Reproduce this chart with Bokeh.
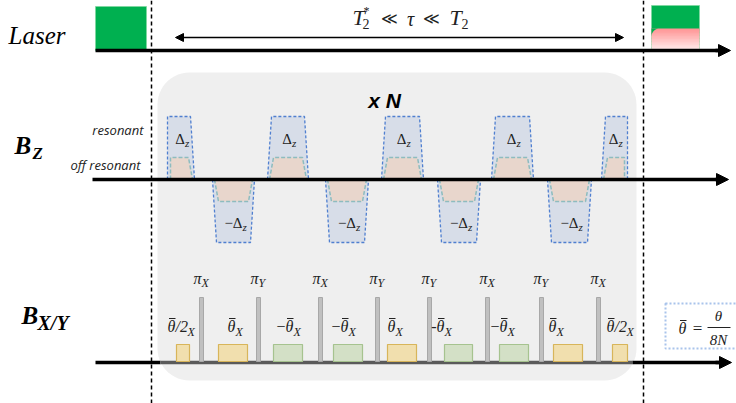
import numpy as np
from bokeh.plotting import figure
from bokeh.models import Range1d, Arrow, NormalHead
from bokeh.core.properties import value
from bokeh.embed import file_html
from bokeh.resources import INLINE

# ---------------- data ----------------
row_names = ["Laser", "B", "B"]
row_subs = ["", "Z", "X/Y"]

laser_left = [95, 651]
laser_right = [146, 699]

bz_left = [167, 212, 267, 325, 381, 437, 491, 547, 601]
bz_right = [194, 254, 308, 368, 423, 480, 533, 591, 627]
bz_sign = [1, -1, 1, -1, 1, -1, 1, -1, 1]
bz_amp_outer = 63
bz_amp_inner = 22

pi_times = [201, 258, 320, 377, 429, 487, 541, 598]
pi_axes = ["X", "Y", "X", "Y", "Y", "X", "Y", "X"]
pi_height = 65

theta_left = [176, 218, 273, 333, 387, 444, 499, 553, 612]
theta_right = [189, 247, 302, 362, 416, 472, 528, 582, 627]
theta_sign = [1, 1, -1, -1, 1, -1, -1, 1, 1]
theta_prefix = ["", "", "−", "−", "", "-", "−", "", ""]
theta_suffix = ["/2", "", "", "", "", "", "", "", "/2"]
theta_height = 18

# ---------------- layout ----------------
Y_LASER, Y_BZ, Y_BXY = 50, 179, 362
theta_label_x = [187, 235, 293, 348, 395, 444, 507, 556, 626]

W, H = 736, 403
p = figure(width=W, height=H, x_range=Range1d(0, W), y_range=Range1d(H, 0),
           output_backend="svg", toolbar_location=None, min_border=0,
           x_axis_type=None, y_axis_type=None, outline_line_color=None,
           background_fill_color="white", border_fill_color="white")
p.grid.visible = False

SERIF = value("Liberation Serif")
SANS = value("Liberation Sans")
TXT = "#222222"


def rounded_rect(l, r, t, b, rad, n=14):
    xs, ys = [], []
    for cx, cy, a0, a1 in [(r - rad, t + rad, -90, 0), (r - rad, b - rad, 0, 90),
                           (l + rad, b - rad, 90, 180), (l + rad, t + rad, 180, 270)]:
        a = np.radians(np.linspace(a0, a1, n))
        xs += list(cx + rad * np.cos(a))
        ys += list(cy + rad * np.sin(a))
    return xs, ys


def theta_bar(x, y, size="16px"):
    # θ with an overbar: glyph + short segment above it
    p.text(x=x, y=y, text=["θ"] * len(x), text_font=SERIF, text_font_style="italic",
           text_font_size=size, text_baseline="middle",
           text_align="center", text_color=TXT)
    p.segment(x0=[v - 2.5 for v in x], x1=[v + 4 for v in x],
              y0=[v - 8 for v in y], y1=[v - 8 for v in y], line_color=TXT, line_width=1)


# gray repeat box
bx, by = rounded_rect(157, 636, 72, 380, 32)
p.patch(bx, by, fill_color="#efefef", line_color=None)

# dashed vertical markers
for xv in [151, 643]:
    p.line([xv, xv], [0, H], line_color="black", line_width=1.5, line_dash="4 3")

# ---------------- Laser row ----------------
p.quad(left=laser_left, right=laser_right, top=[6, 5], bottom=[Y_LASER, Y_LASER],
       fill_color="#00b050", line_color="#7fd8a0", line_width=0.8)
pl, pr = laser_left[1], laser_right[1]
pt, pb = 28, Y_LASER - 1
nstrip = 14
edges = np.linspace(pt, pb, nstrip + 1)
cols = []
for k in range(nstrip):
    f = k / (nstrip - 1)
    g = int(150 + f * 82)
    cols.append("#ff%02x%02x" % (g, g))
p.quad(left=[pl] * nstrip, right=[pr] * nstrip, top=edges[:-1], bottom=edges[1:] + 0.4,
       fill_color=cols, line_color=None)
rad = 8
a = np.radians(np.linspace(180, 270, 12))
cx_, cy_ = pl + rad, pt + rad
p.patch([pl] + list(cx_ + rad * np.cos(a)) + [pl], [pt] + list(cy_ + rad * np.sin(a)) + [pt],
        fill_color="#00b050", line_color=None)

p.line([95, 722], [Y_LASER, Y_LASER], line_color="black", line_width=3.5)
p.add_layout(Arrow(end=NormalHead(size=12, fill_color="black", line_color="black"),
                   x_start=715, y_start=Y_LASER, x_end=730, y_end=Y_LASER,
                   line_color="black", line_width=3.5))

# tau arrow and condition
p.add_layout(Arrow(start=NormalHead(size=8, fill_color="black", line_color="black"),
                   end=NormalHead(size=8, fill_color="black", line_color="black"),
                   x_start=175, y_start=37, x_end=623, y_end=37,
                   line_color="black", line_width=1.3))
p.text(x=[352, 449], y=[17, 17], text=["T", "T"], text_font=SERIF, text_font_style="italic",
       text_font_size="22px", text_baseline="middle", text_align="left", text_color=TXT)
p.text(x=[362, 461], y=[23, 23], text=["2", "2"], text_font=SERIF,
       text_font_size="14px", text_baseline="middle", text_align="left", text_color=TXT)
p.text(x=[363], y=[10], text=["*"], text_font=SERIF,
       text_font_size="12px", text_baseline="middle", text_align="left", text_color=TXT)
p.text(x=[389, 431], y=[18, 18], text=["≪", "≪"], text_font=value("DejaVu Serif"),
       text_font_size="16px", text_baseline="middle", text_align="center", text_color=TXT)
p.text(x=[410], y=[18], text=["τ"], text_font=SERIF, text_font_style="italic",
       text_font_size="20px", text_baseline="middle", text_align="center", text_color=TXT)

# ---------------- Bz row ----------------
oxs, oys, ixs, iys = [], [], [], []
lab_x, lab_y, lab_main = [], [], []
n = len(bz_left)
for i in range(n):
    L, R, s = bz_left[i], bz_right[i], bz_sign[i]
    far_o = Y_BZ - s * bz_amp_outer
    far_i = Y_BZ - s * bz_amp_inner
    inL = 0 if i == 0 else 4
    inR = 0 if i == n - 1 else 4
    oxs.append([L, L + inL, R - inR, R])
    oys.append([Y_BZ, far_o, far_o, Y_BZ])
    aL = 3 if i == 0 else 2
    aR = 3 if i == n - 1 else 2
    fL = 3 if i == 0 else 6
    fR = 3 if i == n - 1 else 6
    ixs.append([L + aL, L + fL, R - fR, R - aR])
    iys.append([Y_BZ, far_i, far_i, Y_BZ])
    c = (L + R) / 2
    if s > 0:
        lab_x.append(c + 4); lab_y.append(138); lab_main.append("Δ")
    else:
        lab_x.append(c + 9); lab_y.append(222); lab_main.append("−Δ")

p.patches(oxs, oys, fill_color="#d7dde8", line_color="#4f7fd0", line_width=1.3,
          line_dash="3 2")
p.patches(ixs, iys, fill_color="#e8d6cc", line_color="#8dbcbf", line_width=1.5,
          line_dash="4 2")
p.text(x=lab_x, y=lab_y, text=lab_main, text_font=SERIF, text_font_size="15px",
       text_baseline="middle", text_align="right", text_color=TXT)
p.text(x=lab_x, y=[v + 4 for v in lab_y], text=["z"] * n, text_font=SERIF,
       text_font_style="italic", text_font_size="11px", text_baseline="middle",
       text_align="left", text_color=TXT)

p.line([92, 720], [Y_BZ, Y_BZ], line_color="black", line_width=3.5)
p.add_layout(Arrow(end=NormalHead(size=12, fill_color="black", line_color="black"),
                   x_start=715, y_start=Y_BZ, x_end=728, y_end=Y_BZ,
                   line_color="black", line_width=3.5))

p.text(x=[143, 140], y=[129, 164], text=["resonant", "off resonant"],
       text_font=value("Open Sans"), text_font_style="italic", text_font_size="13px",
       text_baseline="middle", text_align="right", text_color=TXT)
p.text(x=[384], y=[100], text=["x N"], text_font=SANS, text_font_style="bold italic",
       text_font_size="21px", text_baseline="middle", text_align="center")

# ---------------- Bx/y row ----------------
p.line([95, 160], [Y_BXY, Y_BXY], line_color="black", line_width=3.5)
p.line([160, 632], [Y_BXY, Y_BXY], line_color="#5a5a5a", line_width=3.5)
p.line([632, 722], [Y_BXY, Y_BXY], line_color="black", line_width=3.5)
p.add_layout(Arrow(end=NormalHead(size=12, fill_color="black", line_color="black"),
                   x_start=715, y_start=Y_BXY, x_end=731, y_end=Y_BXY,
                   line_color="black", line_width=3.5))

tcol = ["#f1dfae" if s > 0 else "#d3e0c6" for s in theta_sign]
tline = ["#d8b55a" if s > 0 else "#a6c38f" for s in theta_sign]
m = len(theta_left)
p.quad(left=theta_left, right=theta_right, top=[Y_BXY - theta_height] * m,
       bottom=[Y_BXY - 1] * m, fill_color=tcol, line_color=tline, line_width=1.2)
k = len(pi_times)
p.quad(left=[t - 2 for t in pi_times], right=[t + 2 for t in pi_times],
       top=[Y_BXY - pi_height] * k, bottom=[Y_BXY - 1] * k,
       fill_color="#c0c0c0", line_color="#a8a8a8", line_width=1)

p.text(x=pi_times, y=[278] * k, text=["π"] * k, text_font=SERIF,
       text_font_style="italic", text_font_size="16px", text_baseline="middle",
       text_align="right", text_color=TXT)
p.text(x=pi_times, y=[282] * k, text=pi_axes, text_font=SERIF,
       text_font_style="italic", text_font_size="12px", text_baseline="middle",
       text_align="left", text_color=TXT)

# theta labels: prefix, θ̄, suffix, subscript X
th_x = [sx - 4 - (12 if suf else 0) for sx, suf in zip(theta_label_x, theta_suffix)]
theta_bar(th_x, [326] * m)
p.text(x=[v - 4 for v in th_x], y=[326] * m, text=theta_prefix, text_font=SERIF,
       text_font_size="16px", text_baseline="middle", text_align="right", text_color=TXT)
p.text(x=[v + 4 for v in th_x], y=[326] * m, text=theta_suffix, text_font=SERIF,
       text_font_style="italic", text_font_size="16px", text_baseline="middle",
       text_align="left", text_color=TXT)
p.text(x=theta_label_x, y=[331] * m, text=["X"] * m, text_font=SERIF,
       text_font_style="italic", text_font_size="12px", text_baseline="middle",
       text_align="left", text_color=TXT)

# definition box
p.quad(left=[665], right=[745], top=[303], bottom=[348], fill_color="white",
       line_color="#a9c4eb", line_width=2, line_dash="2 2")
theta_bar([682], [328])
p.text(x=[697], y=[328], text=["="], text_font=SERIF, text_font_size="17px",
       text_baseline="middle", text_align="center", text_color=TXT)
p.text(x=[718, 718], y=[315, 339], text=["θ", "8N"], text_font=SERIF,
       text_font_style="italic", text_font_size="15px", text_baseline="middle",
       text_align="center", text_color=TXT)
p.line([707, 730], [327, 327], line_color=TXT, line_width=1)

# row labels
p.text(x=[8], y=[35], text=[row_names[0]], text_font=SERIF, text_font_style="italic",
       text_font_size="25px", text_baseline="middle", text_align="left")
p.text(x=[14, 21], y=[145, 315], text=row_names[1:], text_font=SERIF,
       text_font_style="bold italic", text_font_size="25px", text_baseline="middle",
       text_align="left")
p.text(x=[32, 37], y=[153, 322], text=row_subs[1:], text_font=SERIF,
       text_font_style="bold italic", text_font_size=["17px", "20px"], text_baseline="middle",
       text_align="left")

open("out.html", "w").write(file_html(p, INLINE))
